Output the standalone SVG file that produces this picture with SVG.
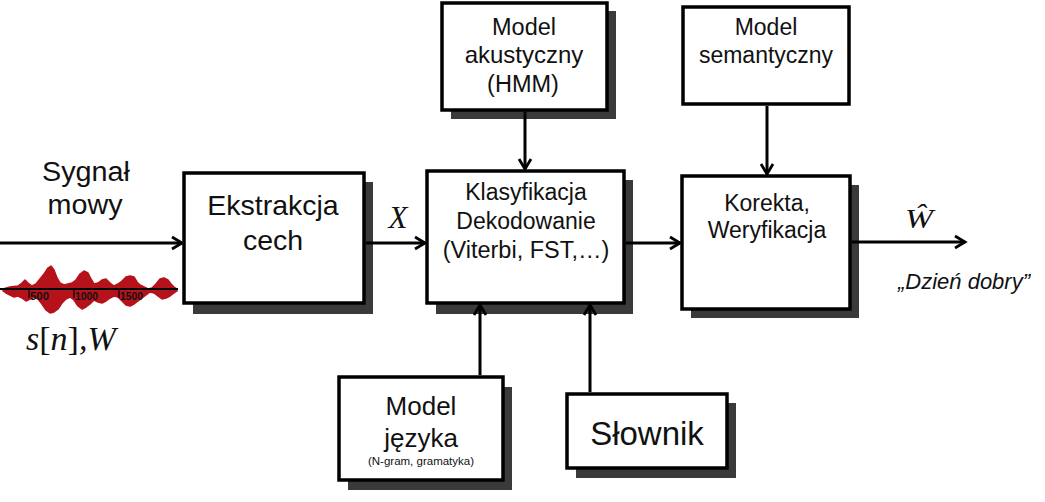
<svg xmlns="http://www.w3.org/2000/svg" width="1045" height="502" viewBox="0 0 1045 502">
<style>
.box{fill:#fff;stroke:#000;stroke-width:3.5}
.shadow{fill:#3a3a3a}
.t{font-family:"Liberation Sans",Arial,sans-serif;fill:#111;text-anchor:middle}
.m{font-family:"Liberation Serif","Times New Roman",serif;font-style:italic;fill:#111}
.c{stroke:#000;stroke-width:3;fill:none}
</style>
<defs>
<marker id="ah" markerUnits="userSpaceOnUse" markerWidth="16" markerHeight="16" refX="12" refY="8" orient="auto">
<path d="M2,2 L12,8 L2,14" fill="none" stroke="#000" stroke-width="2.8" stroke-linejoin="miter"/>
</marker>
</defs>
<rect width="1045" height="502" fill="#fff"/>

<g id="input">
<text class="t" x="86" y="181" font-size="27" textLength="88" lengthAdjust="spacingAndGlyphs">Sygnał</text>
<text class="t" x="85" y="214" font-size="27" textLength="75" lengthAdjust="spacingAndGlyphs">mowy</text>
<path fill="#b5121b" stroke="#b5121b" stroke-width="1.5" stroke-linejoin="round" d="M3,289 L10,287 L18,286 L22,283 L25,280 L28,283 L32,286 L36,284 L40,279 L44,274 L48,268 L51,266 L54,270 L57,278 L60,283 L64,285 L68,284 L72,283 L76,280 L80,274 L84,271 L88,273 L91,279 L94,284 L98,283 L102,280 L106,279 L110,283 L114,286 L118,284 L122,281 L126,277 L130,276 L134,277 L137,282 L140,285 L144,287 L148,289 L152,288 L156,284 L160,279 L164,278 L168,280 L171,284 L174,287 L177,289 L177,291 L174,293 L170,296 L166,298 L162,299 L158,296 L154,293 L150,292 L146,295 L142,298 L138,301 L134,304 L130,306 L126,305 L122,301 L118,297 L114,296 L110,298 L106,301 L102,303 L98,302 L94,300 L90,304 L86,307 L82,309 L78,306 L74,300 L70,297 L66,299 L62,303 L58,309 L54,312 L50,313 L46,310 L42,304 L38,299 L34,297 L30,299 L26,301 L22,298 L18,296 L14,297 L10,295 L6,293 L3,291 Z"/>
<line x1="0" y1="289" x2="178" y2="289" stroke="#000" stroke-width="1.8"/>
<g stroke="#000" stroke-width="1.2">
<line x1="29" y1="289" x2="29" y2="298"/>
<line x1="74" y1="289" x2="74" y2="298"/>
<line x1="119" y1="289" x2="119" y2="298"/>
</g>
<g font-family="Liberation Sans,Arial,sans-serif" font-size="11" font-weight="bold" fill="#111">
<text x="30" y="300" textLength="19" lengthAdjust="spacingAndGlyphs">500</text>
<text x="75" y="300" textLength="23" lengthAdjust="spacingAndGlyphs">1000</text>
<text x="120" y="300" textLength="23" lengthAdjust="spacingAndGlyphs">1500</text>
</g>
<text class="m" x="26" y="350" font-size="34">s<tspan font-style="normal">[</tspan>n<tspan font-style="normal">]</tspan>,W</text>
</g>

<g id="ekstrakcja">
<rect class="shadow" x="193" y="182" width="180" height="132"/>
<rect class="box" x="184" y="173" width="180" height="130"/>
<text class="t" x="273" y="215" font-size="28.5">Ekstrakcja</text>
<text class="t" x="273" y="250" font-size="28.5">cech</text>
</g>

<g id="klasyfikacja">
<rect class="shadow" x="436" y="180" width="197" height="134"/>
<rect class="box" x="427" y="171" width="197" height="132"/>
<text class="t" x="526" y="200" font-size="23">Klasyfikacja</text>
<text class="t" x="526" y="229" font-size="23">Dekodowanie</text>
<text class="t" x="526" y="258" font-size="23.5">(Viterbi, FST,…)</text>
</g>

<g id="korekta">
<rect class="shadow" x="691" y="185" width="168" height="133"/>
<rect class="box" x="682" y="176" width="168" height="133"/>
<text class="t" x="767" y="211" font-size="23">Korekta,</text>
<text class="t" x="767" y="238" font-size="23">Weryfikacja</text>
</g>

<g id="akustyczny">
<rect class="shadow" x="451" y="11" width="165" height="108"/>
<rect class="box" x="442" y="3" width="165" height="107"/>
<text class="t" x="524" y="35" font-size="23.5">Model</text>
<text class="t" x="524" y="63" font-size="24">akustyczny</text>
<text class="t" x="523" y="92" font-size="23.5">(HMM)</text>
</g>

<g id="semantyczny">
<rect class="box" x="683" y="7" width="166" height="97" stroke-width="5"/>
<text class="t" x="766" y="35" font-size="23">Model</text>
<text class="t" x="766" y="63" font-size="23">semantyczny</text>
</g>

<g id="jezyka">
<rect class="shadow" x="348" y="387" width="164" height="103"/>
<rect class="box" x="339" y="377" width="164" height="103"/>
<text class="t" x="421" y="415" font-size="26">Model</text>
<text class="t" x="421" y="447" font-size="26">języka</text>
<text class="t" x="421" y="465" font-size="11.5">(N-gram, gramatyka)</text>
</g>

<g id="slownik">
<rect class="shadow" x="576" y="403" width="160" height="75"/>
<rect class="box" x="567" y="394" width="160" height="74"/>
<text class="t" x="647" y="445" font-size="33">Słownik</text>
</g>

<g id="output">
<text class="m" x="905" y="228" font-size="27" textLength="28" lengthAdjust="spacingAndGlyphs">Ŵ</text>
<text x="964" y="289" font-family="Liberation Sans,Arial,sans-serif" font-style="italic" font-size="22" fill="#111" text-anchor="middle">„Dzień dobry”</text>
<text class="m" x="398" y="228" font-size="31" text-anchor="middle">X</text>
</g>

<g id="connectors">
<line class="c" x1="0" y1="243" x2="182" y2="243" marker-end="url(#ah)"/>
<line class="c" x1="366" y1="243" x2="425" y2="243" marker-end="url(#ah)"/>
<line class="c" x1="626" y1="243" x2="680" y2="243" marker-end="url(#ah)"/>
<line class="c" x1="852" y1="242" x2="965" y2="242" marker-end="url(#ah)"/>
<line class="c" x1="525" y1="112" x2="525" y2="169" marker-end="url(#ah)"/>
<line class="c" x1="767" y1="106" x2="767" y2="174" marker-end="url(#ah)"/>
<line class="c" x1="480" y1="375" x2="480" y2="305" marker-end="url(#ah)"/>
<line class="c" x1="590" y1="392" x2="590" y2="305" marker-end="url(#ah)"/>
</g>
</svg>
